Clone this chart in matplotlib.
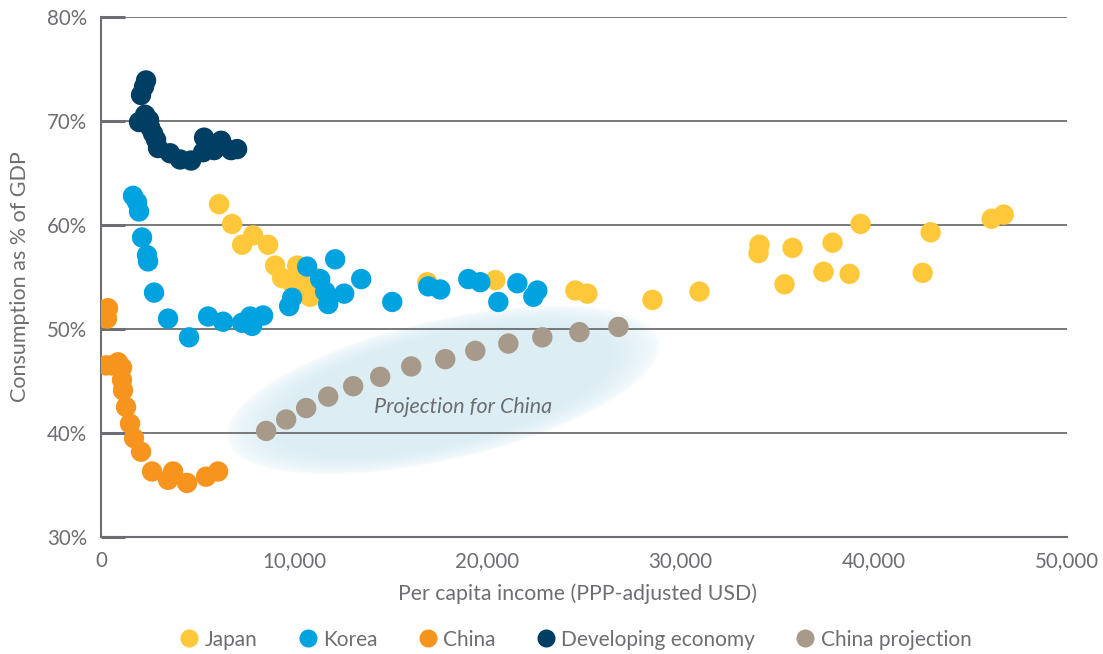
import numpy as np
import matplotlib
matplotlib.use("Agg")
import matplotlib.pyplot as plt
from matplotlib.lines import Line2D
from matplotlib.ticker import FuncFormatter

plt.rcParams['font.family'] = ['Lato', 'DejaVu Sans']

# ---------------- data ----------------
japan_x = [6112, 6786, 7304, 7874, 8651, 9014, 9376, 10153, 10308, 10826, 11137, 9894,
           16887, 20409, 24553, 25175, 28542, 30976, 34084, 34033, 35794, 35379,
           37865, 37399, 38746, 39316, 42528, 42943, 46102, 46724]
japan_y = [62.0, 60.1, 58.1, 59.0, 58.1, 56.1, 54.9, 56.1, 54.2, 53.1, 54.9, 54.4,
           54.5, 54.7, 53.7, 53.4, 52.8, 53.6, 58.1, 57.3, 57.8, 54.3,
           58.3, 55.5, 55.3, 60.1, 55.4, 59.3, 60.6, 61.0]

korea_x = [1658, 1865, 1969, 2124, 2383, 2435, 2746, 3471, 4559, 5543, 6320, 7304,
           7718, 7822, 8392, 9738, 9894, 10671, 11344, 11603, 11759, 12121, 12587,
           13468, 15074, 16939, 17560, 19010, 19632, 20565, 21549, 22378, 22585]
korea_y = [62.8, 62.2, 61.3, 58.8, 57.1, 56.5, 53.5, 51.0, 49.2, 51.2, 50.7, 50.6,
           51.2, 50.3, 51.3, 52.2, 53.0, 56.0, 54.8, 53.6, 52.4, 56.7, 53.4,
           54.8, 52.6, 54.1, 53.8, 54.8, 54.5, 52.6, 54.4, 53.1, 53.7]

china_x = [363, 311, 259, 570, 881, 1088, 1088, 1140, 1295, 1502, 1709, 2072, 2642,
           3471, 3730, 4456, 5440, 6061]
china_y = [52.0, 51.0, 46.5, 46.5, 46.8, 46.3, 45.1, 44.1, 42.5, 40.9, 39.5, 38.2, 36.3,
           35.5, 36.3, 35.2, 35.8, 36.3]

dev_x = [2331, 2228, 2072, 1969, 2280, 2487, 2539, 2694, 2850, 2953, 3575, 4093,
         4663, 5284, 5336, 5854, 6216, 6734, 7045]
dev_y = [73.9, 73.3, 72.5, 69.9, 70.6, 70.1, 69.4, 68.8, 68.2, 67.4, 66.9, 66.3,
         66.2, 67.0, 68.4, 67.2, 68.1, 67.2, 67.3]

proj_x = [8547, 9583, 10619, 11759, 13053, 14451, 16057, 17819, 19373, 21083,
          22844, 24761, 26782]
proj_y = [40.2, 41.3, 42.4, 43.5, 44.5, 45.4, 46.4, 47.1, 47.9, 48.6, 49.2, 49.7, 50.2]

series_names = ["Japan", "Korea", "China", "Developing economy", "China projection"]
series_colors = ["#ffc83a", "#00a2df", "#f7941e", "#003e63", "#a89a8b"]

x_ticks = [0, 10000, 20000, 30000, 40000, 50000]
y_ticks = [30, 40, 50, 60, 70, 80]

GRAY = "#6d6e71"

# ---------------- figure ----------------
fig = plt.figure(figsize=(11.03, 6.54), dpi=100)
ax = fig.add_axes([101/1103, 1-537/654, (1067-101)/1103, (537-17)/654])

xmax = 50000
ax.set_xlim(0, xmax)
ax.set_ylim(30, 80)

# soft ellipse (projection highlight), computed in display pixels
fig.canvas.draw()
bbox = ax.get_window_extent()
nx, ny = int(round(bbox.width)), int(round(bbox.height))
px = np.arange(nx) + 0.5
py = np.arange(ny) + 0.5
PX, PY = np.meshgrid(px, py)
cx, cy = 443 - 101, 654 - 390 - (654 - 537)
th = np.deg2rad(13.0)
dx, dy = PX - cx, PY - cy
u = dx*np.cos(th) + dy*np.sin(th)
v = -dx*np.sin(th) + dy*np.cos(th)
r = np.sqrt((u/222.0)**2 + (v/70.0)**2)
alpha = np.clip((1.0 - r)/0.22, 0, 1)
alpha = np.sqrt(alpha) * 0.85
img = np.zeros((ny, nx, 4))
img[..., 0] = 0.84
img[..., 1] = 0.925
img[..., 2] = 0.955
img[..., 3] = alpha
ax.imshow(img, extent=[0, xmax, 30, 80], origin='lower', aspect='auto',
          zorder=0.5, interpolation='bilinear')

# gridlines
for yv in y_ticks[1:]:
    ax.axhline(yv, color=GRAY, lw=1.3, zorder=1)

# scatter series
data = [(japan_x, japan_y), (korea_x, korea_y), (china_x, china_y),
        (dev_x, dev_y), (proj_x, proj_y)]
for (xs, ys), c in zip(data, series_colors):
    ax.scatter(xs, ys, s=215, color=c, edgecolors='none', zorder=3)

ax.text(18750, 42.5, "Projection for China", style='italic', color=GRAY,
        fontsize=15.5, ha='center', va='center', zorder=4)

# axes styling
for s in ['top', 'right']:
    ax.spines[s].set_visible(False)
for s in ['left', 'bottom']:
    ax.spines[s].set_color(GRAY)
    ax.spines[s].set_linewidth(1.5)

ax.set_xticks(x_ticks)
ax.xaxis.set_major_formatter(FuncFormatter(lambda v, p: f"{int(v):,}"))
ax.set_yticks(y_ticks)
ax.yaxis.set_major_formatter(FuncFormatter(lambda v, p: f"{int(v)}%"))
ax.tick_params(axis='y', direction='in', length=17, width=2.2, color=GRAY,
               labelcolor=GRAY, labelsize=14.8, pad=10)
ax.tick_params(axis='x', direction='in', length=0, color=GRAY,
               labelcolor=GRAY, labelsize=14.8, pad=10)

ax.set_xlabel("Per capita income (PPP-adjusted USD)", color=GRAY, fontsize=15.3)
ax.xaxis.set_label_coords(0.493, -0.09)
ax.set_ylabel("Consumption as % of GDP", color=GRAY, fontsize=15.5, labelpad=12)

# legend
handles = [Line2D([0], [0], marker='o', linestyle='none', markersize=13,
                  markerfacecolor=c, markeredgecolor='none') for c in series_colors]
leg = fig.legend(handles, series_names, loc='center', bbox_to_anchor=(0.522, 0.022),
                 ncol=5, frameon=False, fontsize=15, handlelength=0.9,
                 handletextpad=0.3, columnspacing=1.95, labelcolor=GRAY)

fig.savefig("out.png", dpi=100)
